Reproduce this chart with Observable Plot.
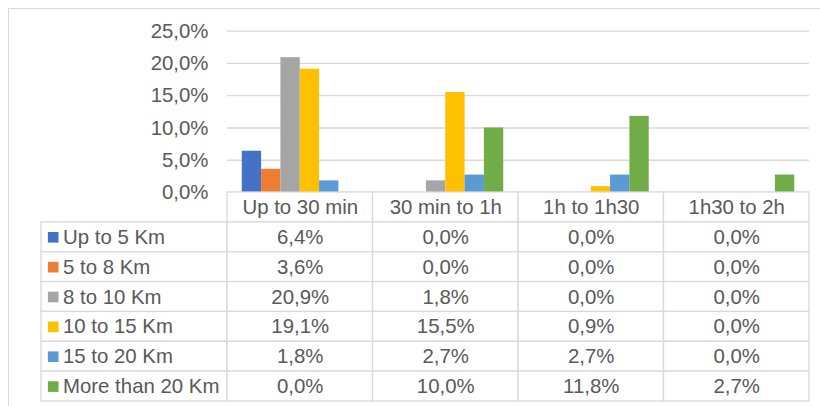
<!DOCTYPE html>
<html><head><meta charset="utf-8">
<script src="https://cdn.jsdelivr.net/npm/d3@7"></script>
<script src="https://cdn.jsdelivr.net/npm/@observablehq/plot@0.6"></script>
<style>
html,body{margin:0;padding:0;background:#fff;}
#wrap{position:relative;width:820px;height:406px;overflow:hidden;font-family:"Liberation Sans",Arial,sans-serif;}
#border{position:absolute;left:8px;top:8px;width:840px;height:420px;border:1px solid #d9d9d9;box-sizing:border-box;}
#wrap svg{position:absolute;left:0;top:0;}
</style></head><body><div id="wrap"><div id="border"></div></div>
<script>
// ---- data ----
const categories = ["Up to 30 min", "30 min to 1h", "1h to 1h30", "1h30 to 2h"];
const series = ["Up to 5 Km", "5 to 8 Km", "8 to 10 Km", "10 to 15 Km", "15 to 20 Km", "More than 20 Km"];
const colors = ["#4472C4", "#ED7D31", "#A5A5A5", "#FFC000", "#5B9BD5", "#70AD47"];
const upTo5Km   = [6.4, 0.0, 0.0, 0.0];
const km5to8    = [3.6, 0.0, 0.0, 0.0];
const km8to10   = [20.9, 1.8, 0.0, 0.0];
const km10to15  = [19.1, 15.5, 0.9, 0.0];
const km15to20  = [1.8, 2.7, 2.7, 0.0];
const moreThan20 = [0.0, 10.0, 11.8, 2.7];
const yTicks = [0, 0.05, 0.10, 0.15, 0.20, 0.25];

const seriesValues = [upTo5Km, km5to8, km8to10, km10to15, km15to20, moreThan20];
const data = series.flatMap((s, i) => categories.map((c, j) => ({
  series: s, category: c, value: seriesValues[i][j] / 100, col: j
})));

const loc = d3.formatLocale({decimal: ",", thousands: ".", grouping: [3], currency: ["", "€"]});
const pct = loc.format(".1%");

const W = 820, H = 406;
const left = 227, right = 809, zeroY = 192, topY = 30.7, bottomY = 401, tableLeft = 41;
const font = "'Liberation Sans', Arial, sans-serif";
const textColor = "#595959";
const lineColor = "#d9d9d9";
const baseStyle = {fontFamily: font, fontSize: "20.4px", color: textColor, background: "transparent", overflow: "visible"};
const chartMargins = {width: W, height: H, marginLeft: left, marginRight: W - right, marginTop: topY, marginBottom: H - zeroY};

// gridlines + value axis
const grid = Plot.plot({
  ...chartMargins,
  style: baseStyle,
  x: {domain: categories, padding: 0, axis: null},
  y: {domain: [0, 0.25], ticks: yTicks, tickFormat: pct, tickSize: 0, tickPadding: 19, label: null},
  marks: [
    Plot.ruleY(yTicks, {y: d => d, stroke: lineColor, strokeWidth: 1.3})
  ]
});

// clustered bars
const bars = Plot.plot({
  ...chartMargins,
  style: baseStyle,
  fx: {domain: categories, paddingInner: 0.203, paddingOuter: 0.1015, round: false, axis: null, label: null},
  x: {domain: series, padding: 0, round: false, axis: null},
  y: {domain: [0, 0.25], axis: null},
  color: {domain: series, range: colors},
  marks: [
    Plot.barY(data.filter(d => d.value > 0), {fx: "category", x: "series", y: "value", fill: "series"})
  ]
});

const colW = (right - left) / categories.length;
const legendFrac = (left - tableLeft) / colW;
const HDR = "__header";

// data table
const table = Plot.plot({
  width: W, height: H,
  marginLeft: tableLeft, marginRight: W - right, marginTop: zeroY, marginBottom: H - bottomY,
  style: baseStyle,
  x: {type: "linear", domain: [-legendFrac, categories.length], axis: null},
  y: {type: "band", domain: [HDR, ...series], padding: 0, round: false, axis: null},
  color: {domain: series, range: colors},
  marks: [
    Plot.barX(categories, {x1: (d, i) => i, x2: (d, i) => i + 1, y: () => HDR, fill: "white", stroke: lineColor, strokeWidth: 1.3}),
    Plot.barX(series, {x1: -legendFrac, x2: 0, y: d => d, fill: "white", stroke: lineColor, strokeWidth: 1.3}),
    Plot.barX(data, {x1: d => d.col, x2: d => d.col + 1, y: "series", fill: "white", stroke: lineColor, strokeWidth: 1.3}),
    Plot.text(categories, {x: (d, i) => i + 0.5, y: () => HDR, text: d => d, fill: textColor}),
    Plot.text(data, {x: d => d.col + 0.5, y: "series", text: d => pct(d.value), fill: textColor}),
    Plot.dot(series, {x: -legendFrac, y: d => d, symbol: "square", r: 6, fill: d => d, dx: 11.7}),
    Plot.text(series, {x: -legendFrac, y: d => d, text: d => d, textAnchor: "start", dx: 21.5, fill: textColor})
  ]
});

const wrap = document.getElementById("wrap");
wrap.appendChild(grid);
wrap.appendChild(bars);
wrap.appendChild(table);
</script>
</body></html>
